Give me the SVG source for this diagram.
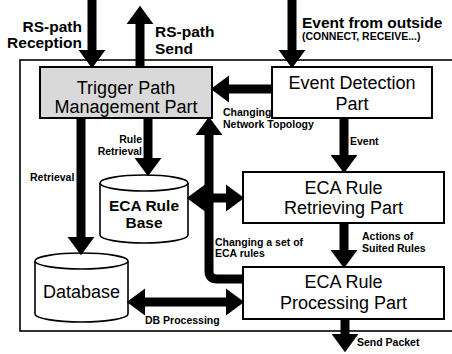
<svg xmlns="http://www.w3.org/2000/svg" width="452" height="354" viewBox="0 0 452 354">
<style>
.box{fill:#fff;stroke:#000;stroke-width:2}
.gray{fill:#d9d9d9}
.cyl{fill:#fff;stroke:#000;stroke-width:1.6}
.t{font-family:"Liberation Sans",Arial,sans-serif;font-size:18px;fill:#000;text-anchor:middle}
.tb{font-family:"Liberation Sans",Arial,sans-serif;font-size:15.5px;font-weight:bold;fill:#000}
.lb{font-family:"Liberation Sans",Arial,sans-serif;font-size:10.5px;font-weight:bold;fill:#000}
.c{fill:none;stroke:#000;stroke-width:9}
</style>
<defs>
<marker id="ah" markerUnits="userSpaceOnUse" markerWidth="20" markerHeight="28" viewBox="0 -13 18 26" refX="1" refY="0" orient="auto-start-reverse">
<path d="M0,-12.5 L17,0 L0,12.5 z" fill="#000"/>
</marker>
</defs>
<rect x="20" y="60" width="450" height="271" fill="none" stroke="#000" stroke-width="1.6"/>

<g id="trigger">
<rect class="box gray" x="40" y="67" width="172" height="51"/>
<text class="t" x="126" y="94">Trigger Path</text>
<text class="t" x="126" y="113">Management Part</text>
</g>
<g id="event-detection">
<rect class="box" x="272" y="67" width="160" height="51"/>
<text class="t" x="352" y="89">Event Detection</text>
<text class="t" x="352" y="110">Part</text>
</g>
<g id="eca-retrieving">
<rect class="box" x="243" y="172" width="201" height="51"/>
<text class="t" x="343.5" y="194">ECA Rule</text>
<text class="t" x="343.5" y="214">Retrieving Part</text>
</g>
<g id="eca-processing">
<rect class="box" x="243" y="267" width="201" height="52"/>
<text class="t" x="343.5" y="288">ECA Rule</text>
<text class="t" x="343.5" y="309">Processing Part</text>
</g>
<g id="eca-rule-base">
<path class="cyl" d="M100,183 V235 A44,8 0 0 0 188,235 V183"/>
<ellipse class="cyl" cx="144" cy="183" rx="44" ry="8"/>
<text class="tb" x="144" y="211" text-anchor="middle">ECA Rule</text>
<text class="tb" x="144" y="228" text-anchor="middle">Base</text>
</g>
<g id="database">
<path class="cyl" d="M35,261 V314 A46.5,8 0 0 0 128,314 V261"/>
<ellipse class="cyl" cx="81.5" cy="261" rx="46.5" ry="8"/>
<text class="t" x="81.5" y="298">Database</text>
</g>

<g id="connectors">
<line class="c" x1="92" y1="0" x2="92" y2="51" marker-end="url(#ah)"/>
<line class="c" x1="140" y1="67" x2="140" y2="23" marker-end="url(#ah)"/>
<line class="c" x1="292" y1="0" x2="292" y2="51" marker-end="url(#ah)"/>
<line class="c" x1="272" y1="89" x2="228" y2="89" marker-end="url(#ah)"/>
<line class="c" x1="344" y1="118" x2="344" y2="156" marker-end="url(#ah)"/>
<line class="c" x1="344" y1="223" x2="344" y2="251" marker-end="url(#ah)"/>
<line class="c" x1="345" y1="319" x2="345" y2="335" marker-end="url(#ah)"/>
<line class="c" x1="148" y1="118" x2="148" y2="159" marker-end="url(#ah)"/>
<line class="c" x1="81" y1="118" x2="81" y2="238" marker-end="url(#ah)"/>
<line class="c" x1="204" y1="198" x2="227" y2="198" marker-start="url(#ah)" marker-end="url(#ah)"/>
<line class="c" x1="144" y1="302" x2="227" y2="302" marker-start="url(#ah)" marker-end="url(#ah)"/>
<path class="c" d="M243,279 H217 Q209,279 209,271 V134" marker-end="url(#ah)"/>
</g>

<g id="labels">
<text class="tb" x="82" y="32" text-anchor="end">RS-path</text>
<text class="tb" x="82" y="48" text-anchor="end">Reception</text>
<text class="tb" x="155" y="37">RS-path</text>
<text class="tb" x="155" y="54">Send</text>
<text class="tb" x="302" y="27.5">Event from outside</text>
<text class="lb" x="302" y="40">(CONNECT, RECEIVE...)</text>
<text class="lb" x="223" y="115.5">Changing</text>
<text class="lb" x="223" y="128">Network Topology</text>
<text class="lb" x="142" y="142.5" text-anchor="end">Rule</text>
<text class="lb" x="142" y="155" text-anchor="end">Retrieval</text>
<text class="lb" x="30" y="180.5">Retrieval</text>
<text class="lb" x="350" y="145">Event</text>
<text class="lb" x="215" y="246">Changing a set of</text>
<text class="lb" x="215" y="257">ECA rules</text>
<text class="lb" x="362" y="240">Actions of</text>
<text class="lb" x="362" y="252">Suited Rules</text>
<text class="lb" x="145" y="324">DB Processing</text>
<text class="lb" x="357" y="346">Send Packet</text>
</g>
</svg>
